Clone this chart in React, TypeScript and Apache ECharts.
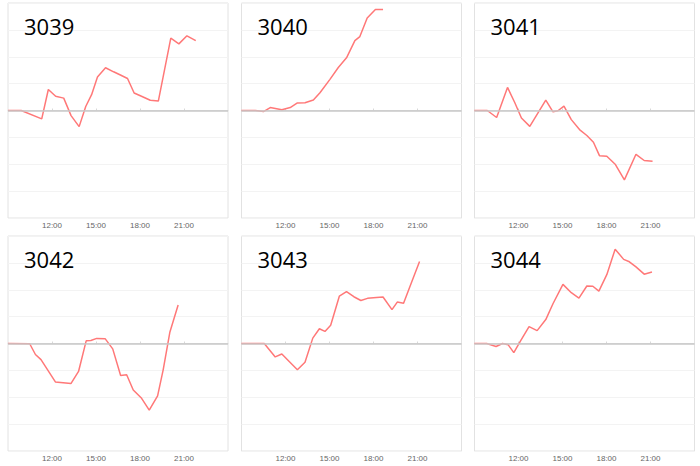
import React, { useEffect, useRef } from "react";
import * as echarts from "echarts";

const panelNames = ["3039", "3040", "3041", "3042", "3043", "3044"];
const xTicks = [9, 12, 15, 18, 21, 24];

// [hour of day, value]
const s3039: number[][] = [
  [9.0, 0], [9.9, 0], [11.3, -0.31], [11.75, 0.78], [12.25, 0.53], [12.8, 0.46],
  [13.3, -0.19], [13.85, -0.6], [14.3, 0.15], [14.7, 0.59], [15.1, 1.25], [15.65, 1.59],
  [16.2, 1.44], [16.7, 1.31], [17.15, 1.19], [17.6, 0.65], [18.1, 0.53], [18.7, 0.38],
  [19.25, 0.35], [20.1, 2.69], [20.65, 2.48], [21.2, 2.78], [21.8, 2.6],
];
const s3040: number[][] = [
  [9.0, 0], [9.94, 0], [10.5, -0.04], [10.96, 0.11], [11.75, 0.03], [12.32, 0.11],
  [12.81, 0.28], [13.33, 0.29], [13.9, 0.39], [14.35, 0.66], [15.03, 1.16], [15.6, 1.6],
  [16.16, 1.96], [16.73, 2.6], [17.07, 2.75], [17.57, 3.44], [18.13, 3.76], [18.65, 3.76],
];
const s3041: number[][] = [
  [9.0, 0], [9.87, 0], [10.51, -0.26], [11.25, 0.86], [11.75, 0.29], [12.2, -0.28],
  [12.77, -0.59], [13.33, -0.09], [13.86, 0.39], [14.35, -0.05], [14.69, -0.01], [15.1, 0.16],
  [15.6, -0.34], [16.16, -0.71], [16.66, -0.93], [17.11, -1.18], [17.52, -1.68], [18.02, -1.7],
  [18.61, -2.01], [19.22, -2.58], [20.01, -1.63], [20.57, -1.86], [21.14, -1.89],
];
const s3042: number[][] = [
  [9.0, 0], [10.48, -0.01], [10.87, -0.41], [11.25, -0.6], [12.23, -1.43], [13.29, -1.49],
  [13.81, -1.04], [14.33, 0.1], [14.65, 0.11], [15.05, 0.19], [15.62, 0.18], [16.14, -0.2],
  [16.68, -1.19], [17.09, -1.16], [17.54, -1.73], [18.11, -2.04], [18.63, -2.48], [19.2, -1.95],
  [19.58, -0.98], [20.04, 0.43], [20.6, 1.43],
];
const s3043: number[][] = [
  [9.0, 0], [10.55, 0], [11.3, -0.5], [11.75, -0.39], [12.27, -0.68], [12.81, -0.98],
  [13.33, -0.7], [13.86, 0.2], [14.31, 0.55], [14.69, 0.45], [15.08, 0.68], [15.67, 1.76],
  [16.16, 1.93], [16.66, 1.74], [17.14, 1.6], [17.59, 1.68], [18.2, 1.71], [18.65, 1.73],
  [19.26, 1.26], [19.62, 1.54], [20.05, 1.5], [20.57, 2.24], [21.14, 3.05],
];
const s3044: number[][] = [
  [9.0, 0], [9.83, 0], [10.47, -0.11], [10.91, 0], [11.3, -0.05], [11.68, -0.34],
  [12.14, 0.1], [12.72, 0.63], [13.27, 0.48], [13.86, 0.89], [14.35, 1.48], [15.03, 2.2],
  [15.6, 1.89], [16.12, 1.69], [16.66, 2.14], [17.07, 2.13], [17.48, 1.95], [18.02, 2.56],
  [18.59, 3.51], [19.17, 3.13], [19.56, 3.04], [20.01, 2.85], [20.57, 2.58], [21.1, 2.66],
];
const seriesData = [s3039, s3040, s3041, s3042, s3043, s3044];

const colLefts = [8, 241.5, 474.5];
const rowTops = [3, 236];
const GW = 220;
const GH = 215;

export default function App() {
  const ref = useRef<HTMLDivElement>(null);
  useEffect(() => {
    if (!ref.current) return;
    const chart = echarts.init(ref.current, undefined, { renderer: "svg" });
    const grids: any[] = [];
    const xAxes: any[] = [];
    const yAxes: any[] = [];
    const series: any[] = [];
    const graphics: any[] = [];
    panelNames.forEach((name, i) => {
      const left = colLefts[i % 3];
      const top = rowTops[Math.floor(i / 3)];
      grids.push({
        left,
        top,
        width: GW,
        height: GH,
        show: true,
        borderColor: "#e2e2e2",
        borderWidth: 1,
        backgroundColor: "#fff",
      });
      xAxes.push({
        type: "value",
        gridIndex: i,
        min: xTicks[0],
        max: xTicks[xTicks.length - 1],
        interval: 3,
        axisLine: { show: true, lineStyle: { color: "#dedede" } },
        axisTick: { show: true, inside: true, length: 2, lineStyle: { color: "#d8d8d8" } },
        splitLine: { show: false },
        axisLabel: {
          showMinLabel: false,
          showMaxLabel: false,
          fontSize: 8,
          color: "#666",
          margin: 3,
          fontFamily: "Liberation Sans",
          formatter: (v: number) => `${v}:00`,
        },
      });
      yAxes.push({
        type: "value",
        gridIndex: i,
        min: -4,
        max: 4,
        interval: 1,
        axisLine: { show: false },
        axisTick: { show: false },
        axisLabel: { show: false },
        splitLine: { show: true, lineStyle: { color: "#f3f3f3", width: 1 } },
      });
      series.push({
        type: "line",
        xAxisIndex: i,
        yAxisIndex: i,
        data: seriesData[i],
        showSymbol: false,
        silent: true,
        lineStyle: { color: "#ff7878", width: 1.5 },
        itemStyle: { color: "#ff7878" },
        markLine: {
          silent: true,
          symbol: "none",
          label: { show: false },
          lineStyle: { color: "#c8c8c8", width: 1.5, type: "solid" },
          data: [{ yAxis: 0 }],
        },
        z: 3,
      });
      graphics.push({
        type: "text",
        x: left + 16,
        y: top + 22.5,
        z: 10,
        style: {
          text: name,
          fontSize: 22,
          fontFamily: "Open Sans",
          fill: "#000",
          verticalAlign: "middle",
          align: "left",
        },
      });
    });
    chart.setOption({
      animation: false,
      backgroundColor: "#fff",
      grid: grids,
      xAxis: xAxes,
      yAxis: yAxes,
      series,
      graphic: graphics,
    });
    return () => chart.dispose();
  }, []);
  return (
    <div
      ref={ref}
      style={{ position: "absolute", left: 0, top: 0, width: 700, height: 466 }}
    />
  );
}
